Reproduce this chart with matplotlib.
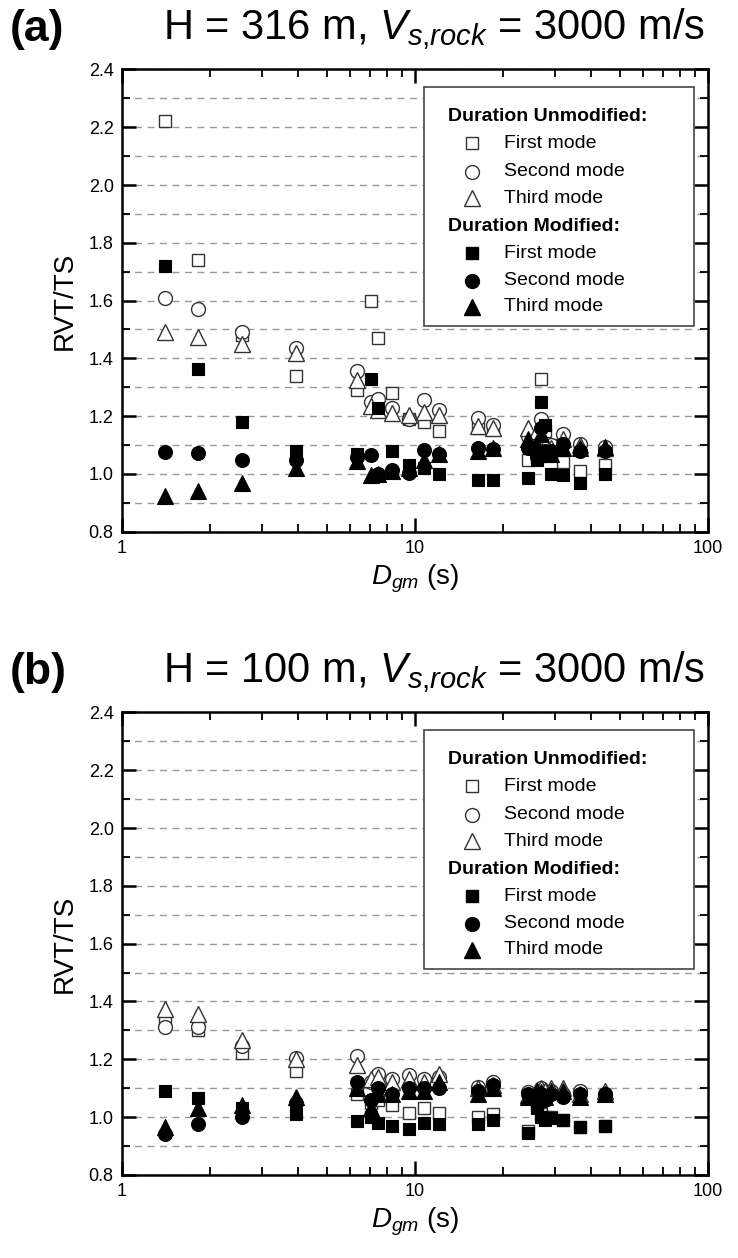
import matplotlib
matplotlib.use('Agg')
import matplotlib.pyplot as plt
import numpy as np
from matplotlib.patches import Rectangle
from matplotlib.ticker import FixedLocator, MultipleLocator, NullFormatter, LogLocator

plt.rcParams['font.family'] = ['Liberation Sans', 'DejaVu Sans']
plt.rcParams['mathtext.fontset'] = 'custom'
plt.rcParams['mathtext.rm'] = 'Liberation Sans'
plt.rcParams['mathtext.it'] = 'Liberation Sans:italic'

# ground motion durations, D_gm (s)
dgm = [1.40, 1.82, 2.57, 3.91, 6.33, 7.07, 7.49, 8.32, 9.56, 10.7, 12.1,
       16.4, 18.4, 24.3, 26.0, 27.0, 27.7, 29.2, 32.0, 36.6, 44.5]

# H = 316 m : duration unmodified
a_unmod_1 = [2.22, 1.74, 1.48, 1.34, 1.29, 1.60, 1.47, 1.28, 1.19, 1.18, 1.15,
             1.16, 1.16, 1.05, 1.06, 1.33, 1.15, 1.10, 1.04, 1.01, 1.03]
a_unmod_2 = [1.61, 1.57, 1.49, 1.435, 1.355, 1.25, 1.26, 1.23, 1.19, 1.255, 1.22,
             1.195, 1.17, 1.13, 1.12, 1.19, 1.09, 1.10, 1.14, 1.105, 1.095]
a_unmod_3 = [1.49, 1.475, 1.45, 1.42, 1.325, 1.235, 1.22, 1.21, 1.205, 1.215, 1.205,
             1.165, 1.16, 1.16, 1.15, 1.12, 1.10, 1.09, 1.12, 1.10, 1.09]
# H = 316 m : duration modified
a_mod_1 = [1.72, 1.365, 1.18, 1.08, 1.07, 1.33, 1.23, 1.08, 1.03, 1.02, 1.00,
           0.98, 0.98, 0.985, 1.05, 1.25, 1.17, 1.00, 0.995, 0.97, 1.00]
a_mod_2 = [1.075, 1.072, 1.048, 1.05, 1.06, 1.065, 1.00, 1.015, 1.005, 1.083, 1.07,
           1.09, 1.085, 1.09, 1.06, 1.16, 1.08, 1.08, 1.105, 1.08, 1.08]
a_mod_3 = [0.925, 0.94, 0.968, 1.02, 1.045, 0.995, 1.00, 1.01, 1.02, 1.05, 1.07,
           1.08, 1.09, 1.12, 1.10, 1.14, 1.07, 1.07, 1.09, 1.09, 1.095]

# H = 100 m : duration unmodified
b_unmod_1 = [1.34, 1.30, 1.22, 1.16, 1.08, 1.05, 1.06, 1.04, 1.015, 1.03, 1.015,
             1.00, 1.01, 0.95, 1.04, 1.01, 1.00, 1.00, 0.99, 0.965, 0.97]
b_unmod_2 = [1.31, 1.31, 1.245, 1.205, 1.21, 1.12, 1.15, 1.13, 1.145, 1.13, 1.14,
             1.105, 1.12, 1.085, 1.08, 1.10, 1.08, 1.09, 1.08, 1.09, 1.08]
b_unmod_3 = [1.375, 1.355, 1.265, 1.20, 1.18, 1.13, 1.14, 1.12, 1.13, 1.12, 1.15,
             1.10, 1.11, 1.075, 1.09, 1.10, 1.09, 1.10, 1.10, 1.08, 1.09]
# H = 100 m : duration modified
b_mod_1 = [1.09, 1.065, 1.03, 1.01, 0.985, 1.00, 0.98, 0.97, 0.96, 0.98, 0.975,
           0.975, 0.99, 0.945, 1.03, 1.00, 0.99, 0.995, 0.99, 0.965, 0.97]
b_mod_2 = [0.94, 0.975, 1.00, 1.05, 1.12, 1.06, 1.10, 1.08, 1.10, 1.10, 1.10,
           1.09, 1.11, 1.08, 1.07, 1.08, 1.06, 1.08, 1.07, 1.08, 1.08]
b_mod_3 = [0.965, 1.03, 1.04, 1.07, 1.10, 1.03, 1.08, 1.08, 1.09, 1.09, 1.12,
           1.08, 1.10, 1.07, 1.09, 1.085, 1.07, 1.09, 1.09, 1.07, 1.08]

panels = [
    ('(a)', r'H = 316 m, $V_{s{,}rock}$ = 3000 m/s',
     [a_unmod_1, a_unmod_2, a_unmod_3, a_mod_1, a_mod_2, a_mod_3]),
    ('(b)', r'H = 100 m, $V_{s{,}rock}$ = 3000 m/s',
     [b_unmod_1, b_unmod_2, b_unmod_3, b_mod_1, b_mod_2, b_mod_3]),
]

mode_names = ['First mode', 'Second mode', 'Third mode']
markers = ['s', 'o', '^']
msizes = [9, 10, 11]
edge = '#333333'

W, H = 738, 1258
fig = plt.figure(figsize=(W / 100, H / 100), dpi=100)

ax_left, ax_w, ax_h = 122, 586, 462.4
ax_tops = [69.4, 712.4]


def px_axes(ax_top, px, py):
    # pixel offset inside the axes -> axes fraction
    return px / ax_w, 1 - py / ax_h


for (tag, title, series), top in zip(panels, ax_tops):
    ax = fig.add_axes([ax_left / W, 1 - (top + ax_h) / H, ax_w / W, ax_h / H])
    ax.set_xscale('log')
    ax.set_xlim(1, 100)
    ax.set_ylim(0.8, 2.4)

    for i in range(3):
        ax.plot(dgm, series[i], ls='none', marker=markers[i], ms=msizes[i],
                mfc='white', mec=edge, mew=1.0, zorder=3)
    for i in range(3):
        ax.plot(dgm, series[3 + i], ls='none', marker=markers[i], ms=msizes[i],
                mfc='black', mec='black', mew=0.8, zorder=4)

    ax.yaxis.set_major_locator(MultipleLocator(0.2))
    ax.yaxis.set_minor_locator(MultipleLocator(0.1))
    ax.yaxis.set_major_formatter(matplotlib.ticker.FormatStrFormatter('%.1f'))
    ax.xaxis.set_major_locator(FixedLocator([1, 10, 100]))
    ax.xaxis.set_major_formatter(matplotlib.ticker.FixedFormatter(['1', '10', '100']))
    ax.xaxis.set_minor_locator(LogLocator(base=10, subs=np.arange(2, 10)))
    ax.xaxis.set_minor_formatter(NullFormatter())

    ax.grid(which='both', axis='y', ls=(0, (5, 4)), color='#999999', lw=1.0)
    ax.set_axisbelow(True)
    ax.tick_params(which='both', direction='in', top=True, right=True,
                   labelsize=13, pad=6)
    ax.tick_params(which='major', length=10, width=1.8)
    ax.tick_params(which='minor', length=6, width=1.3)
    for sp in ax.spines.values():
        sp.set_linewidth(1.8)

    ax.set_ylabel('RVT/TS', fontsize=20, labelpad=8)
    ax.set_xlabel(r'$D_{gm}$ (s)', fontsize=20, labelpad=4)

    # titles above each panel
    fig.text(10 / W, 1 - (top - 40) / H, tag, fontsize=32, fontweight='bold',
             ha='left', va='center')
    fig.text(163 / W, 1 - (top - 40) / H, title, fontsize=30,
             ha='left', va='center')

    # legend box
    bx0, by0 = px_axes(top, 302, 17.6)
    bx1, by1 = px_axes(top, 572, 256.6)
    ax.add_patch(Rectangle((bx0, by1), bx1 - bx0, by0 - by1, transform=ax.transAxes,
                           fc='white', ec='#444444', lw=1.2, zorder=6))
    rows = [47.3, 73.9, 102.3, 128.9, 157.3, 183.9, 211.3, 237.3]
    headers = ['Duration Unmodified:', 'Duration Modified:']
    for g in range(2):
        hx, hy = px_axes(top, 326, rows[4 * g])
        ax.text(hx, hy, headers[g], transform=ax.transAxes, fontsize=14,
                fontweight='bold', ha='left', va='center', zorder=7)
        for i in range(3):
            mx, my = px_axes(top, 349.7, rows[4 * g + 1 + i])
            if g == 0:
                ax.plot([mx], [my], transform=ax.transAxes, ls='none',
                        marker=markers[i], ms=msizes[i], mfc='white', mec=edge,
                        mew=1.0, zorder=7, clip_on=False)
            else:
                ax.plot([mx], [my], transform=ax.transAxes, ls='none',
                        marker=markers[i], ms=msizes[i], mfc='black', mec='black',
                        zorder=7, clip_on=False)
            tx, ty = px_axes(top, 382, rows[4 * g + 1 + i])
            ax.text(tx, ty, mode_names[i], transform=ax.transAxes, fontsize=14,
                    ha='left', va='center', zorder=7)

fig.savefig('out.png', dpi=100)
